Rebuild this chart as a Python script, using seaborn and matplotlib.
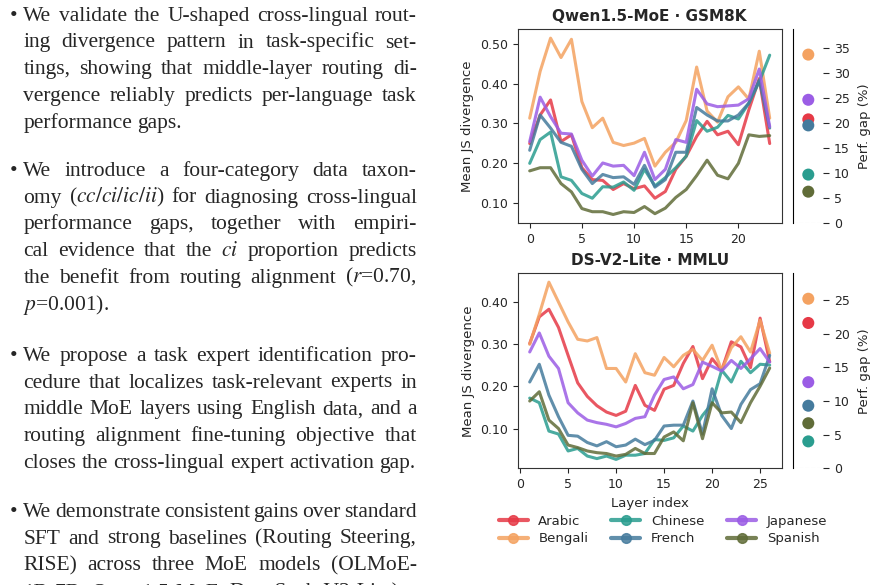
import matplotlib
matplotlib.use("Agg")
import matplotlib.pyplot as plt
import seaborn as sns
import numpy as np
import pandas as pd
from matplotlib.lines import Line2D
from matplotlib.ticker import MultipleLocator, FormatStrFormatter

# ---- data ----
languages = ["Arabic", "Bengali", "Chinese", "French", "Japanese", "Spanish"]

qwen_layers = list(range(0, 24))
qwen_arabic = [0.249, 0.321, 0.359, 0.254, 0.271, 0.188, 0.158, 0.156, 0.133, 0.148, 0.135, 0.142,
               0.111, 0.128, 0.184, 0.217, 0.267, 0.305, 0.271, 0.280, 0.246, 0.334, 0.413, 0.249]
qwen_bengali = [0.313, 0.431, 0.515, 0.466, 0.512, 0.355, 0.289, 0.313, 0.252, 0.244, 0.250, 0.262,
                0.192, 0.227, 0.252, 0.307, 0.442, 0.331, 0.303, 0.367, 0.392, 0.361, 0.482, 0.313]
qwen_chinese = [0.199, 0.259, 0.278, 0.165, 0.156, 0.123, 0.111, 0.140, 0.139, 0.152, 0.131, 0.184,
                0.142, 0.163, 0.188, 0.217, 0.307, 0.280, 0.290, 0.320, 0.311, 0.351, 0.405, 0.472]
qwen_french = [0.232, 0.321, 0.288, 0.252, 0.242, 0.184, 0.148, 0.171, 0.163, 0.165, 0.146, 0.194,
               0.139, 0.158, 0.227, 0.227, 0.340, 0.321, 0.306, 0.306, 0.321, 0.351, 0.409, 0.288]
qwen_japanese = [0.254, 0.366, 0.317, 0.275, 0.273, 0.207, 0.167, 0.200, 0.192, 0.194, 0.168, 0.227,
                 0.158, 0.184, 0.259, 0.252, 0.386, 0.349, 0.342, 0.344, 0.346, 0.362, 0.437, 0.292]
qwen_spanish = [0.180, 0.188, 0.188, 0.148, 0.127, 0.085, 0.077, 0.077, 0.070, 0.077, 0.075, 0.090,
                0.072, 0.086, 0.113, 0.133, 0.168, 0.207, 0.169, 0.160, 0.199, 0.271, 0.267, 0.269]
qwen_gap = [20.7, 33.6, 9.7, 19.5, 24.6, 6.3]

ds_layers = list(range(1, 27))
ds_arabic = [0.301, 0.364, 0.382, 0.339, 0.273, 0.208, 0.176, 0.154, 0.139, 0.131, 0.141, 0.202, 0.155,
             0.143, 0.193, 0.202, 0.254, 0.294, 0.218, 0.265, 0.238, 0.305, 0.293, 0.244, 0.361, 0.258]
ds_bengali = [0.299, 0.370, 0.446, 0.399, 0.352, 0.311, 0.307, 0.315, 0.242, 0.242, 0.210, 0.277, 0.232,
              0.226, 0.268, 0.246, 0.273, 0.287, 0.261, 0.297, 0.238, 0.291, 0.317, 0.281, 0.356, 0.278]
ds_chinese = [0.172, 0.161, 0.094, 0.087, 0.047, 0.053, 0.035, 0.029, 0.035, 0.027, 0.037, 0.037, 0.041,
              0.074, 0.072, 0.078, 0.106, 0.094, 0.131, 0.159, 0.238, 0.210, 0.259, 0.232, 0.252, 0.250]
ds_french = [0.210, 0.252, 0.179, 0.128, 0.084, 0.082, 0.067, 0.059, 0.069, 0.057, 0.061, 0.075, 0.062,
             0.072, 0.106, 0.108, 0.108, 0.165, 0.087, 0.194, 0.131, 0.100, 0.157, 0.192, 0.206, 0.273]
ds_japanese = [0.281, 0.326, 0.271, 0.242, 0.161, 0.137, 0.120, 0.114, 0.110, 0.104, 0.112, 0.124, 0.128,
               0.179, 0.216, 0.222, 0.194, 0.204, 0.257, 0.247, 0.236, 0.261, 0.242, 0.265, 0.289, 0.257]
ds_spanish = [0.165, 0.187, 0.120, 0.100, 0.061, 0.055, 0.047, 0.043, 0.041, 0.035, 0.039, 0.053, 0.041,
              0.041, 0.080, 0.092, 0.071, 0.161, 0.076, 0.161, 0.137, 0.139, 0.114, 0.161, 0.200, 0.243]
ds_gap = [21.6, 25.2, 4.0, 9.3, 12.8, 6.7]

palette = {"Arabic": "#e63946", "Bengali": "#f4a261", "Chinese": "#2a9d8f",
           "French": "#457b9d", "Japanese": "#9b5de5", "Spanish": "#606c38"}


def long_df(layers, series):
    rows = []
    for lang, vals in zip(languages, series):
        for l, v in zip(layers, vals):
            rows.append((lang, l, v))
    return pd.DataFrame(rows, columns=["language", "layer", "js"])


qwen_df = long_df(qwen_layers, [qwen_arabic, qwen_bengali, qwen_chinese, qwen_french, qwen_japanese, qwen_spanish])
ds_df = long_df(ds_layers, [ds_arabic, ds_bengali, ds_chinese, ds_french, ds_japanese, ds_spanish])

# ---- figure ----
sns.set_style("ticks")
plt.rcParams["font.family"] = ["DejaVu Sans"]
plt.rcParams["mathtext.fontset"] = "stix"

W, H = 883, 585
fig = plt.figure(figsize=(W / 100, H / 100), dpi=100)


def px_axes(x0, y0, x1, y1):
    return fig.add_axes([x0 / W, 1 - y1 / H, (x1 - x0) / W, (y1 - y0) / H])


panels = [
    ("Qwen1.5-MoE · GSM8K", qwen_df, qwen_gap, 29.3, 223.3, 5),
    ("DS-V2-Lite · MMLU", ds_df, ds_gap, 273.3, 468.3, 5),
]

for i, (title, df, gaps, top, bot, step) in enumerate(panels):
    ax = px_axes(517.7, top, 781.7, bot)
    sns.lineplot(data=df, x="layer", y="js", hue="language", palette=palette,
                 linewidth=2.2, alpha=0.85, legend=False, ax=ax)
    ax.set_title(title, fontsize=11, fontweight="bold", pad=6)
    ax.set_ylabel("Mean JS divergence", fontsize=9.5)
    ax.set_xlabel("Layer index" if i == 1 else "", fontsize=9.5)
    ax.xaxis.set_major_locator(MultipleLocator(5))
    ax.yaxis.set_major_formatter(FormatStrFormatter("%.2f"))
    ax.yaxis.set_major_locator(MultipleLocator(0.1))
    ax.tick_params(labelsize=9, length=3.5)
    for s in ax.spines.values():
        s.set_color("#333333")

    side = px_axes(793.3, top, 823.3, bot)
    sns.scatterplot(x=[0.5] * len(languages), y=gaps, hue=languages, palette=palette,
                    s=75, edgecolor="none", legend=False, ax=side)
    side.axhline(0, color="#dddddd", ls="--", lw=0.8)
    side.set_xlim(0, 1)
    side.set_ylim(0, max(gaps) * 1.15)
    side.set_xticks([])
    side.yaxis.tick_right()
    side.yaxis.set_label_position("right")
    side.yaxis.set_major_locator(MultipleLocator(step))
    side.tick_params(axis="y", labelsize=9, length=4)
    side.set_ylabel("Perf. gap (%)", fontsize=9.5, labelpad=6)
    for s in ["top", "right", "bottom"]:
        side.spines[s].set_visible(False)
    side.spines["left"].set_color("black")

handles = [Line2D([], [], color=palette[l], lw=3, marker="o", markersize=7, alpha=0.85) for l in languages]
fig.legend(handles, languages, loc="upper center", bbox_to_anchor=(0.751, 1 - 503 / H), ncol=3,
           frameon=False, fontsize=9.5, handlelength=2.2, columnspacing=1.75, handletextpad=0.8,
           labelspacing=0.35)

# ---- left text column ----
FS = 15.5
X0, X1 = 23.3, 416.7
paragraphs = [
    (20.7, ["We validate the U-shaped cross-lingual rout-",
            "ing divergence pattern in task-specific set-",
            "tings, showing that middle-layer routing di-",
            "vergence reliably predicts per-language task",
            "performance gaps."]),
    (175.7, ["We introduce a four-category data taxon-",
             r"omy ($\mathit{cc/ci/ic/ii}$) for diagnosing cross-lingual",
             "performance gaps, together with empiri-",
             r"cal evidence that the $\mathit{ci}$ proportion predicts",
             r"the benefit from routing alignment ($r$=0.70,",
             r"$p$=0.001)."]),
    (360.7, ["We propose a task expert identification pro-",
             "cedure that localizes task-relevant experts in",
             "middle MoE layers using English data, and a",
             "routing alignment fine-tuning objective that",
             "closes the cross-lingual expert activation gap."]),
    (516.7, ["We demonstrate consistent gains over standard",
             "SFT and strong baselines (Routing Steering,",
             "RISE) across three MoE models (OLMoE-",
             "1B-7B, Qwen1.5-MoE, DeepSeek-V2-Lite)."]),
]
LINE = 26.8
renderer = fig.canvas.get_renderer()
space_px = FS * 100 / 72 * 0.25

for y0, lines in paragraphs:
    fig.text(10 / W, 1 - y0 / H, "•", fontsize=FS, family="Liberation Serif", va="baseline")
    for k, line in enumerate(lines):
        y = 1 - (y0 + k * LINE) / H
        words = line.split(" ")
        texts = [fig.text(0, y, w, fontsize=FS, family="Liberation Serif", va="baseline", ha="left")
                 for w in words]
        widths = [t.get_window_extent(renderer).width for t in texts]
        last = k == len(lines) - 1
        gap = space_px if last else (X1 - X0 - sum(widths)) / (len(words) - 1)
        x = X0
        for t, w in zip(texts, widths):
            t.set_x(x / W)
            x += w + gap

fig.savefig("out.png", dpi=100)
